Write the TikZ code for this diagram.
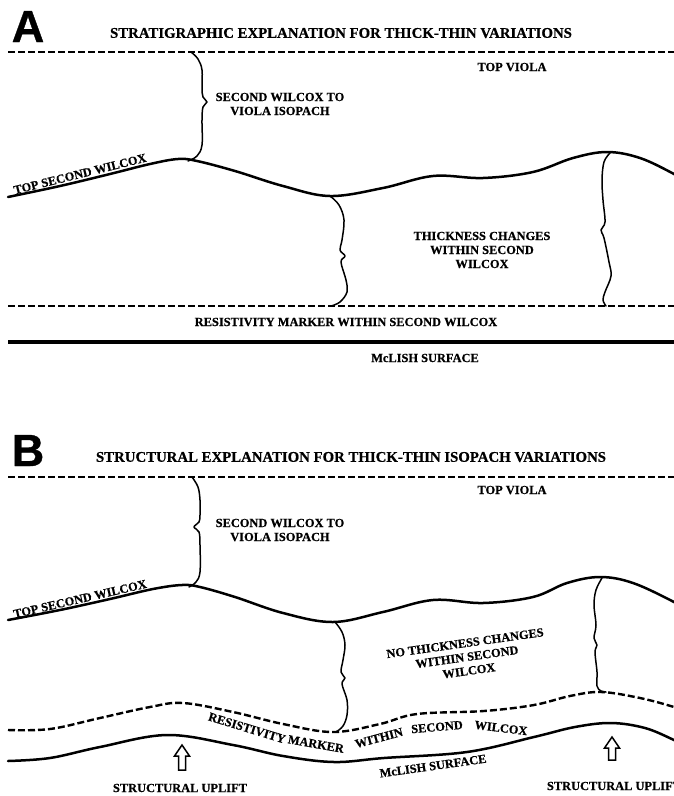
\documentclass[tikz,border=0pt]{standalone}
\usepackage{fontspec}
\setmainfont{Liberation Serif}[BoldFeatures={FakeBold=0.6}]
\newfontfamily\panelfont{Liberation Sans}[BoldFeatures={FakeBold=0.8}]
\begin{document}
\begin{tikzpicture}[x=1pt,y=-1pt,
  lbl/.style={font=\bfseries\fontsize{12.4}{14}\selectfont, inner sep=0pt, align=center},
  ttl/.style={font=\bfseries\fontsize{14.8}{16}\selectfont, inner sep=0pt},
  panel/.style={font=\panelfont\bfseries\fontsize{45}{45}\selectfont, inner sep=0pt, anchor=base},
  horizon/.style={line width=2.5pt, line cap=round, line join=round},
  flat/.style={line width=3.2pt},
  marker/.style={line width=2.4pt, dash pattern=on 7pt off 3pt},
  brace/.style={line width=1.5pt, line cap=round, line join=round},
  uplift/.style={line width=1.5pt, fill=white, line join=miter}
]
\useasboundingbox (0,0) rectangle (674,796);

% ================= Panel A: stratigraphic explanation =================
\node[panel] (pA) at (28,42) {A};
\node[ttl] (tA) at (341,33) {STRATIGRAPHIC EXPLANATION FOR THICK-THIN VARIATIONS};

% top Viola (dashed datum)
\draw[marker] (8,52) -- (690,52);
\node[lbl] (violaA) at (512,67) {TOP VIOLA};

% top Second Wilcox horizon
\draw[horizon] plot[smooth, tension=0.6] coordinates {
  (8,197) (60,186) (110,174) (150,164) (178,159) (197,161) (235,171)
  (283,186) (330,196) (383,188) (433,176) (483,178) (533,172) (573,158)
  (607,152) (640,158) (674,174) (690,184)};
\node[lbl, rotate=14] (twA) at (80,174) {TOP SECOND WILCOX};

% isopach brace Viola -> Second Wilcox
\draw[brace] plot[smooth, tension=0.6] coordinates {
  (191,52) (198,59) (202,70) (202,88) (203,97) (207,102) (203,107)
  (202,120) (202,145) (197,156) (188,161)};
\node[lbl] (isoA) at (280,104) {SECOND WILCOX TO\\VIOLA ISOPACH};

% thickness braces within Second Wilcox
\draw[brace] plot[smooth, tension=0.6] coordinates {
  (330,196) (339,205) (344,220) (342,240) (340,250) (345,256) (341,262)
  (346,280) (347,292) (340,302) (331,306)};
\draw[brace] plot[smooth, tension=0.6] coordinates {
  (610,153) (604,162) (602,180) (603,200) (605,222) (601,230) (604,238)
  (609,262) (611,276) (605,292) (603,300) (606,306)};
\node[lbl] (thA) at (482,250) {THICKNESS CHANGES\\WITHIN SECOND\\WILCOX};

% resistivity marker and McLish surface
\draw[marker] (8,306) -- (690,306);
\node[lbl] (resA) at (346,322) {RESISTIVITY MARKER WITHIN SECOND WILCOX};
\draw[flat] (8,342) -- (690,342);
\node[lbl] (mcA) at (425,358) {McLISH SURFACE};

% ================= Panel B: structural explanation =================
\node[panel] (pB) at (28,466) {B};
\node[ttl] (tB) at (351,457) {STRUCTURAL EXPLANATION FOR THICK-THIN ISOPACH VARIATIONS};

\draw[marker] (8,477) -- (690,477);
\node[lbl] (violaB) at (512,490) {TOP VIOLA};

\draw[horizon] plot[smooth, tension=0.6] coordinates {
  (8,620) (60,610) (110,599) (153,589) (182,585) (200,587) (235,597)
  (283,613) (333,622) (383,612) (433,600) (483,603) (533,597) (567,583)
  (600,577) (633,583) (674,602) (690,612)};
\node[lbl, rotate=13] (twB) at (80,599) {TOP SECOND WILCOX};

\draw[brace] plot[smooth, tension=0.6] coordinates {
  (192,477) (198,487) (200,500) (200,515) (199,522) (194,527) (199,532)
  (200,545) (200,572) (196,582) (189,587)};
\node[lbl] (isoB) at (280,530) {SECOND WILCOX TO\\VIOLA ISOPACH};

\draw[brace] plot[smooth, tension=0.6] coordinates {
  (335,622) (342,632) (345,645) (343,660) (341,672) (345,678) (342,684)
  (347,700) (347,715) (343,726) (336,732)};
\draw[brace] plot[smooth, tension=0.6] coordinates {
  (602,578) (596,590) (594,605) (596,625) (594,638) (597,645) (595,652)
  (597,672) (597,686) (601,691) (606,692)};
\node[lbl, rotate=8] (thB) at (467,657) {NO THICKNESS CHANGES\\WITHIN SECOND\\WILCOX};

% deformed resistivity marker
\draw[marker] plot[smooth, tension=0.6] coordinates {
  (8,730) (50,729) (100,718) (150,707) (183,703) (233,712) (283,724)
  (333,732) (380,724) (417,714) (484,711) (534,705) (570,696) (601,692)
  (640,698) (674,707) (690,713)};
\node[lbl, rotate=-17] (r1) at (247,728) {RESISTIVITY};
\node[lbl, rotate=-10] (r2) at (316,744) {MARKER};
\node[lbl, rotate=15] (r3) at (379,738) {WITHIN};
\node[lbl, rotate=5] (r4) at (437,727) {SECOND};
\node[lbl, rotate=-7] (r5) at (501,728) {WILCOX};

% deformed McLish surface
\draw[horizon] plot[smooth, tension=0.6] coordinates {
  (8,761) (50,758) (100,747) (167,735) (233,745) (283,756) (334,762)
  (384,758) (467,752) (534,737) (575,727) (611,723) (645,728) (674,740) (690,748)};
\node[lbl, rotate=8] (mcB) at (433,766) {McLISH SURFACE};

% uplift arrows
\draw[uplift] (182,745) -- (189.5,756) -- (185.5,756) -- (185.5,770)
  -- (178.5,770) -- (178.5,756) -- (174.5,756) -- cycle;
\draw[uplift] (612,737) -- (619.5,748) -- (615.5,748) -- (615.5,760)
  -- (608.5,760) -- (608.5,748) -- (604.5,748) -- cycle;
\node[lbl] (su1) at (180,788) {STRUCTURAL UPLIFT};
\node[lbl] (su2) at (614,786) {STRUCTURAL UPLIFT};

\end{tikzpicture}
\end{document}
